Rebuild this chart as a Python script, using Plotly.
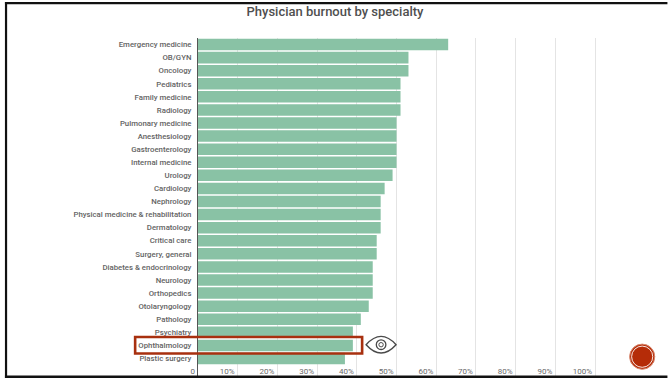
import plotly.graph_objects as go

WIDTH, HEIGHT = 668, 378
PLOT_LEFT, PLOT_RIGHT = 197.5, 637.5
PLOT_TOP, PLOT_BOTTOM = 38, 376

specialties = [
    "Emergency medicine", "OB/GYN", "Oncology", "Pediatrics", "Family medicine",
    "Radiology", "Pulmonary medicine", "Anesthesiology", "Gastroenterology",
    "Internal medicine", "Urology", "Cardiology", "Nephrology",
    "Physical medicine & rehabilitation", "Dermatology", "Critical care",
    "Surgery, general", "Diabetes & endocrinology", "Neurology", "Orthopedics",
    "Otolaryngology", "Pathology", "Psychiatry", "Ophthalmology", "Plastic surgery",
]
burnout_pct = [63, 53, 53, 51, 51, 51, 50, 50, 50, 50, 49, 47, 46, 46, 46,
               45, 45, 44, 44, 44, 43, 41, 39, 39, 37]
x_ticks = [0, 10, 20, 30, 40, 50, 60, 70, 80, 90, 100]
x_tick_labels = ["0", "10%", "20%", "30%", "40%", "50%", "60%", "70%", "80%", "90%", "100%"]

BAR = "#89c2a5"
TEXT = "#636363"
RED = "#a8300f"
INK = "#4a4a4a"


# Paper coordinates are relative to the plot area, so page pixels are converted here.
def px(x):
    return (x - PLOT_LEFT) / (PLOT_RIGHT - PLOT_LEFT)


def py(y):
    return (PLOT_BOTTOM - y) / (PLOT_BOTTOM - PLOT_TOP)


def paper_rect(x0, y0, x1, y1, **style):
    return dict(type="rect", xref="paper", yref="paper", x0=px(x0), x1=px(x1),
                y0=py(y1), y1=py(y0), **style)


def paper_circle(cx, cy, r, **style):
    return dict(type="circle", xref="paper", yref="paper", x0=px(cx - r), x1=px(cx + r),
                y0=py(cy + r), y1=py(cy - r), **style)


def eye_outline(cx, cy, hw, hh):
    left = f"{px(cx - hw)},{py(cy)}"
    right = f"{px(cx + hw)},{py(cy)}"
    top = f"{px(cx)},{py(cy - 2 * hh)}"
    bottom = f"{px(cx)},{py(cy + 2 * hh)}"
    return f"M{left} Q{top} {right} Q{bottom} {left} Z"


fig = go.Figure(go.Bar(
    x=burnout_pct,
    y=specialties,
    orientation="h",
    marker=dict(color=BAR, line=dict(width=0)),
    width=0.88,
))

shapes = [
    # Highlight around the ophthalmology row
    paper_rect(134.5, 337, 362, 353.5, line=dict(color=RED, width=2.6)),
    # Eye pictogram
    dict(type="path", xref="paper", yref="paper", path=eye_outline(381, 344.7, 15, 8.3),
         line=dict(color=INK, width=1.4)),
    paper_circle(381, 344.7, 4.8, line=dict(color=INK, width=1.3)),
    paper_circle(381, 344.7, 2.2, line=dict(color=INK, width=1)),
    # Round badge
    paper_circle(642.7, 356.7, 12.6, fillcolor="#b52c08", line=dict(color="#d98a70", width=1)),
    paper_circle(642.7, 356.7, 10.6, line=dict(color="#ffffff", width=0.9)),
    # Slide frame
    paper_rect(0, 0, 4, 378, fillcolor="#ffffff", line=dict(width=0)),
    paper_rect(4, 2, 668, 4.2, fillcolor="#111111", line=dict(width=0)),
    paper_rect(4, 2, 6.2, 378, fillcolor="#111111", line=dict(width=0)),
    paper_rect(4, 375.5, 668, 378, fillcolor="#111111", line=dict(width=0)),
]

fig.update_layout(
    width=WIDTH,
    height=HEIGHT,
    autosize=False,
    paper_bgcolor="#ffffff",
    plot_bgcolor="#ffffff",
    showlegend=False,
    bargap=0.12,
    margin=dict(l=PLOT_LEFT, r=WIDTH - PLOT_RIGHT, t=PLOT_TOP, b=HEIGHT - PLOT_BOTTOM),
    font=dict(family="Roboto, sans-serif", color=TEXT, size=8),
    title=dict(text="Physician burnout by specialty", x=335 / WIDTH, xanchor="center",
               y=1 - 11 / HEIGHT, yanchor="middle", automargin=False,
               font=dict(family="Roboto, sans-serif", size=13, color="#4f4f4f", weight=500)),
    shapes=shapes,
    xaxis=dict(
        automargin=False,
        range=[0, 110.55],
        tickmode="array",
        tickvals=x_ticks,
        ticktext=x_tick_labels,
        showgrid=True,
        gridcolor="#e4e4e4",
        gridwidth=1,
        zeroline=False,
        showline=False,
        ticklabelposition="outside left",
        ticklabelshift=-3,
        ticklabelstandoff=-11,
        tickfont=dict(family="Roboto, sans-serif", size=8, color="#6a6a6a"),
    ),
    yaxis=dict(
        automargin=False,
        categoryorder="array",
        categoryarray=specialties,
        range=[25.34, -0.5],
        tickmode="array",
        tickvals=specialties,
        ticktext=specialties,
        showgrid=False,
        zeroline=False,
        showline=True,
        linecolor="#555555",
        linewidth=1,
        ticks="",
        ticklabelstandoff=4,
        tickfont=dict(family="Roboto, sans-serif", size=7.8, color=TEXT, weight=500),
    ),
)

fig.write_html("out.html", config=dict(displayModeBar=False))
